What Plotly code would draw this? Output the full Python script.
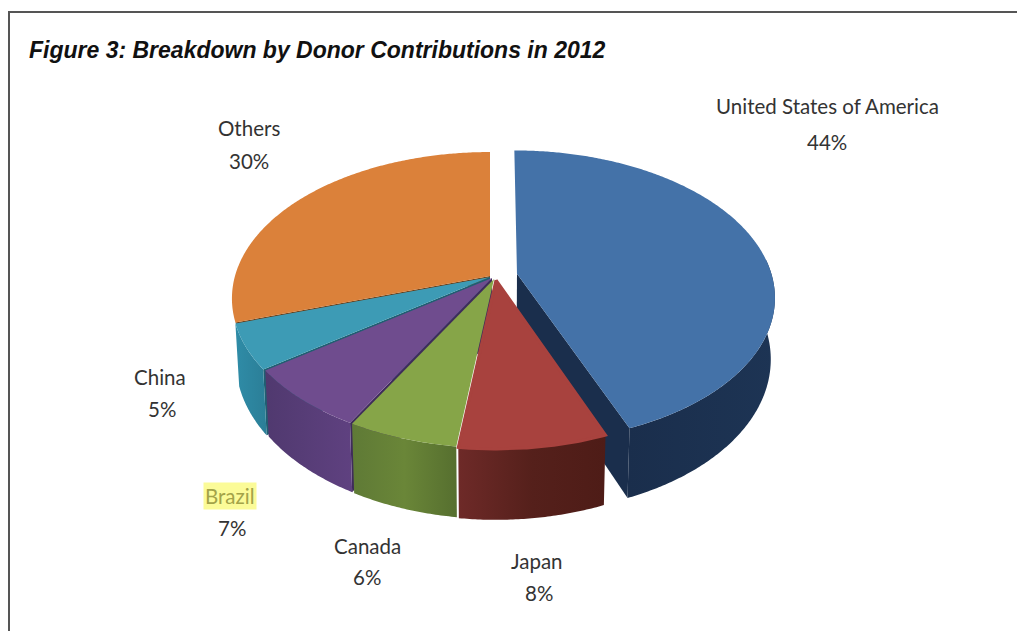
import numpy as np
import plotly.graph_objects as go

# Donor shares in percent, clockwise from twelve o'clock
categories = ["United States of America", "Japan", "Canada", "Brazil", "China", "Others"]
shares = [44, 8, 6, 7, 5, 30]
title_text = "Figure 3: Breakdown by Donor Contributions in 2012"

top_colors = ["#4472A8", "#A8423E", "#86A548", "#6F4C8E", "#3D9BB5", "#DB813A"]
wall_scales = [
    ["#1A2E4C", "#1D3454"],
    ["#6E2A28", "#55201B", "#4E1C17"],
    ["#5F7A36", "#6A8638", "#566F2F"],
    ["#50396F", "#5F4180"],
    ["#2F8CA7", "#2B7E97"],
]
# Radial faces left exposed beside a slice: which edge, colour, how far down it shows
radial_walls = {"United States of America": ("end", "#1A2E4C", 60),
                "Others": ("start", "#6A3C14", 6),
                "China": ("start", "#1F5F72", 60),
                "Brazil": ("start", "#3F2C5A", 60)}
# Pixel nudges that pull the slices apart; the US slice also explodes radially
nudges = {"United States of America": (6, -2), "Japan": (5, 2), "Canada": (3, 1),
          "Brazil": (1, 0), "China": (-1, -1), "Others": (-1, -2)}
explode = {"United States of America": 0.08}
has_rim = {"United States of America", "Japan", "Canada", "Brazil", "China"}

# Perspective disc: unit circle on a tilted plane mapped to pixel coordinates
CX, CY, A, B, K, DEPTH = 491, 278, 255, 143, 0.1536, 60
WALL_SHRINK = 0.985
# Only this stretch of the rim faces the viewer
RIM_FROM, RIM_TO = 84, 276


def project(u, v, drop=0.0):
    s = 1 / (1 - K * v)
    shrink = WALL_SHRINK if drop else 1.0
    return A * u * s * shrink, (B * v + drop) * s


def outline_arc(start, end, shift_u, shift_v, dx, dy, drop=0.0):
    theta = np.radians(np.linspace(start, end, max(int(end - start) * 2, 2)))
    x, y = project(np.sin(theta) + shift_u, -np.cos(theta) + shift_v, drop)
    return CX + dx + x, CY + dy + y


def apex(shift_u, shift_v, dx, dy, drop=0.0):
    x, y = project(np.array([shift_u]), np.array([shift_v]), drop)
    return CX + dx + x, CY + dy + y


fig = go.Figure()


def add_poly(x, y, **style):
    fig.add_trace(go.Scatter(x=x, y=y, fill="toself", hoverinfo="skip", showlegend=False, **style))


bounds = np.cumsum([0] + shares) * 3.6
slices = []
for i, name in enumerate(categories):
    mid = np.radians((bounds[i] + bounds[i + 1]) / 2)
    d = explode.get(name, 0.0)
    slices.append(dict(index=i, name=name, start=bounds[i], end=bounds[i + 1],
                       su=np.sin(mid) * d, sv=-np.cos(mid) * d,
                       dx=nudges[name][0], dy=nudges[name][1]))

# Painter's order: back of the pie first, front slices last
paint_order = ["United States of America", "Others", "China", "Brazil", "Canada", "Japan"]
for name in paint_order:
    s = next(item for item in slices if item["name"] == name)
    i = s["index"]
    args = (s["su"], s["sv"], s["dx"], s["dy"])

    if name in radial_walls:
        side, color, drop = radial_walls[name]
        edge = s["start"] if side == "start" else s["end"]
        ex, ey = outline_arc(edge, edge + 1e-6, *args)
        ebx, eby = outline_arc(edge, edge + 1e-6, *args, drop=drop)
        ax, ay = apex(*args)
        abx, aby = apex(*args, drop=drop)
        add_poly([ax[0], ex[0], ebx[0], abx[0], ax[0]],
                 [ay[0], ey[0], eby[0], aby[0], ay[0]], mode="none", fillcolor=color)

    # Outer rim between the upper arc and the lower arc
    if name in has_rim:
        rim_start, rim_end = max(s["start"], RIM_FROM), min(s["end"], RIM_TO)
        tx, ty = outline_arc(rim_start, rim_end, *args)
        bx, by = outline_arc(rim_start, rim_end, *args, drop=DEPTH)
        stops = wall_scales[i]
        scale = [[j / (len(stops) - 1), c] for j, c in enumerate(stops)]
        add_poly(np.r_[tx, bx[::-1], tx[0]], np.r_[ty, by[::-1], ty[0]], mode="none",
                 fillgradient=dict(type="horizontal", colorscale=scale))

    # Upper face; Japan carries a stroke so it meets Canada without a gap
    tx, ty = outline_arc(s["start"], s["end"], *args)
    ax, ay = apex(*args)
    if name == "Japan":
        add_poly(np.r_[ax, tx, ax], np.r_[ay, ty, ay], mode="lines",
                 line=dict(color=top_colors[i], width=3), fillcolor=top_colors[i])
    else:
        add_poly(np.r_[ax, tx, ax], np.r_[ay, ty, ay], mode="none", fillcolor=top_colors[i])

# Slice labels: name on one line, percentage on the next
label_font = "Lato, 'Open Sans', sans-serif"
name_anchor = {"United States of America": (827, 106), "Japan": (537, 561), "Canada": (367, 546),
               "Brazil": (230, 496), "China": (160, 377), "Others": (249, 128)}
share_anchor = {"United States of America": (827, 142), "Japan": (539, 593), "Canada": (367, 577),
                "Brazil": (232, 528), "China": (162, 409), "Others": (249, 161)}
for name, share in zip(categories, shares):
    highlighted = name == "Brazil"
    fig.add_annotation(x=name_anchor[name][0], y=name_anchor[name][1], text=name, showarrow=False,
                       xanchor="center", yanchor="middle",
                       font=dict(family=label_font, size=20.5, color="#A3A348" if highlighted else "#333333"),
                       bgcolor="#FBFB98" if highlighted else "rgba(0,0,0,0)", borderpad=1)
    fig.add_annotation(x=share_anchor[name][0], y=share_anchor[name][1], text=f"{share}%", showarrow=False,
                       xanchor="center", yanchor="middle",
                       font=dict(family=label_font, size=20.5, color="#333333"))

fig.add_annotation(x=27, y=50, text=f"<b><i>{title_text}</i></b>", showarrow=False,
                   xanchor="left", yanchor="middle",
                   font=dict(family="'Liberation Sans', Arial, sans-serif", size=23, color="#111111"))

# Frame running along the top and left of the panel
fig.add_shape(type="path", path="M 9 631 L 9 12 L 1017 12", line=dict(color="#555555", width=2))

fig.update_xaxes(range=[0, 1017], visible=False)
fig.update_yaxes(range=[631, 0], visible=False)
fig.update_layout(width=1017, height=631, autosize=False, margin=dict(l=0, r=0, t=0, b=0),
                  paper_bgcolor="#FFFFFF", plot_bgcolor="#FFFFFF", showlegend=False)

fig.write_html("out.html", config={"displayModeBar": False})
